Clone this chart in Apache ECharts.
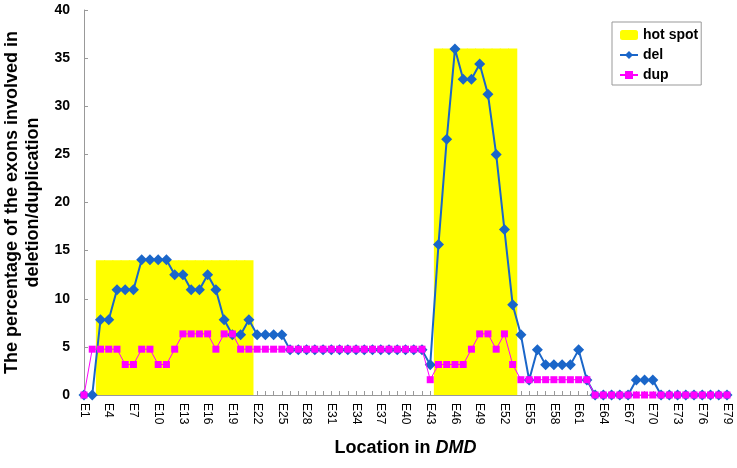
<!DOCTYPE html>
<html>
<head>
<meta charset="utf-8">
<script src="https://cdn.jsdelivr.net/npm/echarts@6/dist/echarts.min.js"></script>
<style>html,body{margin:0;padding:0;background:#fff}#c{width:737px;height:468px}</style>
</head>
<body>
<div id="c"></div>
<script>
var categories = Array.from({length: 79}, function (_, i) { return 'E' + (i + 1); });

var hotSpot = [null, null,
  14, 14, 14, 14, 14, 14, 14, 14, 14, 14, 14, 14, 14, 14, 14, 14, 14, 14, 14,
  null, null, null, null, null, null, null, null, null, null, null, null, null, null, null, null, null, null, null, null, null, null,
  36, 36, 36, 36, 36, 36, 36, 36, 36, 36,
  null, null, null, null, null, null, null, null, null, null, null, null, null, null, null, null, null, null, null, null, null, null, null, null, null, null];

var del = [0, 0, 7.81, 7.81, 10.94, 10.94, 10.94, 14.06, 14.06, 14.06, 14.06, 12.5, 12.5, 10.94, 10.94, 12.5, 10.94, 7.81, 6.25, 6.25, 7.81, 6.25, 6.25, 6.25, 6.25,
  4.69, 4.69, 4.69, 4.69, 4.69, 4.69, 4.69, 4.69, 4.69, 4.69, 4.69, 4.69, 4.69, 4.69, 4.69, 4.69, 4.69,
  3.13, 15.63, 26.56, 35.94, 32.81, 32.81, 34.38, 31.25, 25, 17.19, 9.38, 6.25, 1.56, 4.69, 3.13, 3.13, 3.13, 3.13, 4.69, 1.56,
  0, 0, 0, 0, 0, 1.56, 1.56, 1.56, 0, 0, 0, 0, 0, 0, 0, 0, 0];

var dup = [0, 4.76, 4.76, 4.76, 4.76, 3.17, 3.17, 4.76, 4.76, 3.17, 3.17, 4.76, 6.35, 6.35, 6.35, 6.35, 4.76, 6.35, 6.35, 4.76, 4.76,
  4.76, 4.76, 4.76, 4.76, 4.76, 4.76, 4.76, 4.76, 4.76, 4.76, 4.76, 4.76, 4.76, 4.76, 4.76, 4.76, 4.76, 4.76, 4.76, 4.76, 4.76,
  1.59, 3.17, 3.17, 3.17, 3.17, 4.76, 6.35, 6.35, 4.76, 6.35, 3.17,
  1.59, 1.59, 1.59, 1.59, 1.59, 1.59, 1.59, 1.59, 1.59,
  0, 0, 0, 0, 0, 0, 0, 0, 0, 0, 0, 0, 0, 0, 0, 0, 0];

var yTicks = {min: 0, max: 40, interval: 5};

var FONT = '"Liberation Sans", Arial, sans-serif';
var chart = echarts.init(document.getElementById('c'), null, {renderer: 'canvas'});
chart.setOption({
  animation: false,
  backgroundColor: '#ffffff',
  textStyle: {fontFamily: FONT},
  grid: {left: 84, right: 10, top: 10, bottom: 73, containLabel: false, outerBoundsMode: 'none'},
  legend: {
    orient: 'vertical',
    left: 612, top: 22,
    padding: [6, 3, 3, 7],
    itemGap: 6,
    itemWidth: 18, itemHeight: 10,
    borderColor: '#999999', borderWidth: 1,
    textStyle: {fontFamily: FONT, fontWeight: 'bold', fontSize: 14, color: '#000'},
    data: ['hot spot', 'del', 'dup']
  },
  xAxis: {
    type: 'category',
    data: categories,
    boundaryGap: false,
    axisLine: {lineStyle: {color: '#999999', width: 1}},
    axisTick: {show: true, inside: true, length: 4, interval: 0, lineStyle: {color: '#999999'}},
    axisLabel: {interval: 2, rotate: -90, margin: 8, fontSize: 12, color: '#000', fontFamily: FONT},
    splitLine: {show: false},
    name: '{a|Location in }{b|DMD}',
    nameLocation: 'middle',
    nameGap: 44,
    nameTextStyle: {
      rich: {
        a: {fontFamily: FONT, fontWeight: 'bold', fontSize: 18, color: '#000'},
        b: {fontFamily: FONT, fontWeight: 'bold', fontStyle: 'italic', fontSize: 18, color: '#000'}
      }
    }
  },
  yAxis: {
    type: 'value',
    min: yTicks.min, max: yTicks.max, interval: yTicks.interval,
    axisLine: {show: true, lineStyle: {color: '#999999', width: 1}},
    axisTick: {show: true, inside: true, length: 4, lineStyle: {color: '#999999'}},
    axisLabel: {fontSize: 14, fontWeight: 'bold', color: '#000', margin: 14, fontFamily: FONT},
    splitLine: {show: false},
    name: 'The percentage of the exons involved in\ndeletion/duplication',
    nameLocation: 'middle',
    nameGap: 40,
    nameTextStyle: {fontFamily: FONT, fontWeight: 'bold', fontSize: 18, color: '#000', lineHeight: 21, align: 'center'}
  },
  series: [
    {
      name: 'hot spot',
      type: 'bar',
      data: hotSpot,
      barWidth: '112%',
      itemStyle: {color: '#ffff00'},
      z: 1
    },
    {
      name: 'del',
      type: 'line',
      data: del,
      symbol: 'diamond',
      symbolSize: 11,
      showAllSymbol: true,
      lineStyle: {color: '#1a66c9', width: 2},
      itemStyle: {color: '#1a66c9'},
      z: 3
    },
    {
      name: 'dup',
      type: 'line',
      data: dup,
      symbol: 'rect',
      symbolSize: 7,
      showAllSymbol: true,
      lineStyle: {color: '#ff00ff', width: 1},
      itemStyle: {color: '#ff00ff'},
      z: 4
    }
  ]
});
</script>
</body>
</html>
